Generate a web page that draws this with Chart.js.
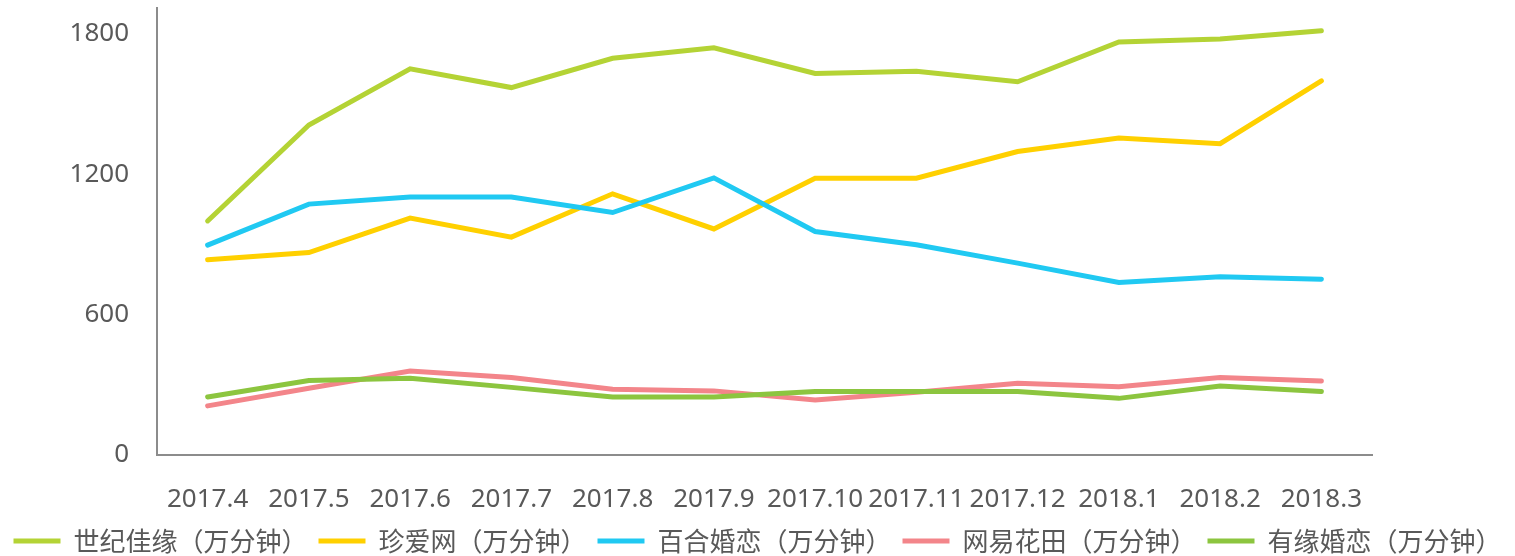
<!DOCTYPE html>
<html>
<head>
<meta charset="utf-8">
<script src="https://cdn.jsdelivr.net/npm/chart.js@4/dist/chart.umd.min.js"></script>
<style>
  html, body { margin: 0; padding: 0; background: #fff; }
  #wrap { width: 1515px; height: 556px; position: relative; }
</style>
</head>
<body>
<div id="wrap"><canvas id="chart"></canvas></div>
<script>
// months on the x axis
const months = ["2017.4", "2017.5", "2017.6", "2017.7", "2017.8", "2017.9",
  "2017.10", "2017.11", "2017.12", "2018.1", "2018.2", "2018.3"];

// 万分钟
const shijijiayuan = [1000, 1410, 1650, 1570, 1695, 1740, 1630, 1640, 1595, 1765, 1778, 1813];
const zhenaiwang   = [834, 865, 1012, 931, 1116, 966, 1183, 1183, 1297, 1354, 1330, 1599];
const baihe        = [897, 1072, 1102, 1102, 1036, 1184, 955, 898, 820, 737, 762, 751];
const huatian      = [210, 285, 359, 331, 281, 274, 235, 268, 307, 292, 331, 316];
const youyuan      = [248, 318, 328, 289, 248, 248, 271, 271, 271, 242, 295, 271];

const yTicks = [0, 600, 1200, 1800];

const seriesNames = ["世纪佳缘（万分钟）", "珍爱网（万分钟）", "百合婚恋（万分钟）", "网易花田（万分钟）", "有缘婚恋（万分钟）"];
const seriesData = [shijijiayuan, zhenaiwang, baihe, huatian, youyuan];
const seriesColors = ["#b4d335", "#ffd000", "#20c9f2", "#f3858a", "#8cc53f"];

const textColor = "#595959";
const axisColor = "#8c8c8c";

// excel draws later series on top, chart.js the other way round
const datasets = seriesNames.map((name, i) => ({
  label: name,
  data: seriesData[i],
  borderColor: seriesColors[i],
  backgroundColor: seriesColors[i],
  borderWidth: 5,
  borderCapStyle: "round",
  borderJoinStyle: "miter",
  pointRadius: 0,
  pointHoverRadius: 0,
  tension: 0,
  fill: false,
  order: seriesNames.length - i,
}));

// nudge the legend down a bit, chart.js keeps 10px under it
const legendShift = {
  id: "legendShift",
  afterLayout(chart) {
    if (!chart.legend) return;
    chart.legend.top += 8;
    chart.legend.bottom += 8;
  }
};

new Chart(document.getElementById("chart"), {
  type: "line",
  data: { labels: months, datasets },
  plugins: [legendShift],
  options: {
    responsive: true,
    maintainAspectRatio: false,
    animation: false,
    layout: { padding: { left: 0, right: 0, top: 8, bottom: 0 } },
    plugins: {
      tooltip: { enabled: false },
      legend: {
        position: "bottom",
        labels: {
          usePointStyle: true,
          pointStyle: "line",
          pointStyleWidth: 47,
          boxHeight: 5,
          padding: 11,
          color: textColor,
          font: { family: "'Noto Sans CJK SC', 'Noto Sans', sans-serif", size: 26 },
          sort: (a, b) => a.datasetIndex - b.datasetIndex,
        }
      }
    },
    scales: {
      x: {
        offset: true,
        grid: { display: false, drawTicks: false },
        border: { display: true, color: axisColor, width: 2 },
        ticks: {
          autoSkip: false,
          maxRotation: 0,
          minRotation: 0,
          padding: 29,
          color: textColor,
          font: { family: "'Noto Sans', sans-serif", size: 26 },
        },
        afterFit: s => { s.height = 54; s.paddingLeft = 0; s.paddingRight = 0; },
      },
      y: {
        min: 0,
        max: 1910,
        grid: { display: false, drawTicks: false },
        border: { display: true, color: axisColor, width: 2 },
        afterBuildTicks: s => { s.ticks = yTicks.map(v => ({ value: v })); },
        ticks: {
          padding: 28,
          color: textColor,
          font: { family: "'Noto Sans', sans-serif", size: 26 },
          callback: v => String(v),
        },
        afterFit: s => { s.width = 157; s.paddingTop = 0; s.paddingBottom = 0; },
      },
      // empty space on the right of the plot
      yRight: {
        position: "right",
        display: true,
        grid: { display: false, drawTicks: false },
        border: { display: false },
        ticks: { display: false },
        afterFit: s => { s.width = 143; s.paddingTop = 0; s.paddingBottom = 0; },
      }
    }
  }
});
</script>
</body>
</html>
